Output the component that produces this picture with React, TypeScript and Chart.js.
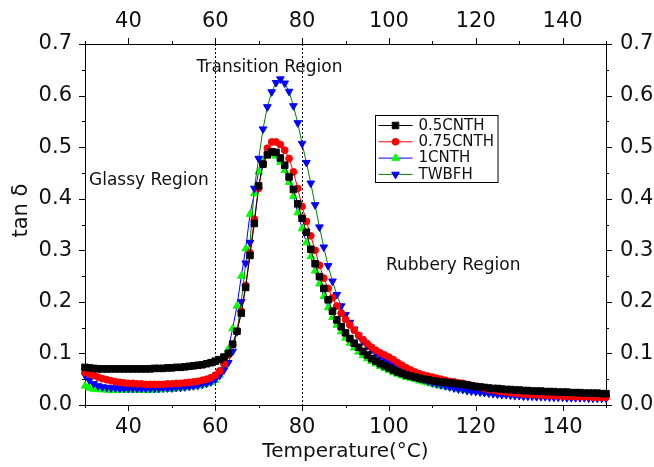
import { useEffect, useRef } from 'react';
import { Chart, registerables } from 'chart.js';

Chart.register(...registerables);

// ---------- data ----------
const temperature = [
  30, 31, 32, 33, 34, 35, 36, 37, 38, 39,
  40, 41, 42, 43, 44, 45, 46, 47, 48, 49,
  50, 51, 52, 53, 54, 55, 56, 57, 58, 59,
  60, 61, 62, 63, 64, 65, 66, 67, 68, 69,
  70, 71, 72, 73, 74, 75, 76, 77, 78, 79,
  80, 81, 82, 83, 84, 85, 86, 87, 88, 89,
  90, 91, 92, 93, 94, 95, 96, 97, 98, 99,
  100, 101, 102, 103, 104, 105, 106, 107, 108, 109,
  110, 111, 112, 113, 114, 115, 116, 117, 118, 119,
  120, 121, 122, 123, 124, 125, 126, 127, 128, 129,
  130, 131, 132, 133, 134, 135, 136, 137, 138, 139,
  140, 141, 142, 143, 144, 145, 146, 147, 148, 149,
  150,
];

const cnth05 = [
  0.073, 0.072, 0.071, 0.070, 0.070, 0.070, 0.070, 0.070, 0.070, 0.070,
  0.070, 0.070, 0.070, 0.070, 0.070, 0.070, 0.071, 0.071, 0.071, 0.072,
  0.072, 0.073, 0.073, 0.074, 0.075, 0.076, 0.077, 0.078, 0.080, 0.082,
  0.085, 0.088, 0.093, 0.100, 0.118, 0.143, 0.178, 0.228, 0.290, 0.352,
  0.425, 0.467, 0.485, 0.491, 0.490, 0.479, 0.465, 0.442, 0.418, 0.390,
  0.362, 0.335, 0.302, 0.274, 0.249, 0.226, 0.204, 0.182, 0.165, 0.152,
  0.140, 0.129, 0.120, 0.112, 0.104, 0.097, 0.090, 0.085, 0.080, 0.076,
  0.072, 0.068, 0.064, 0.061, 0.058, 0.056, 0.054, 0.052, 0.050, 0.049,
  0.047, 0.046, 0.045, 0.044, 0.043, 0.042, 0.041, 0.040, 0.039, 0.037,
  0.036, 0.035, 0.034, 0.033, 0.032, 0.032, 0.031, 0.030, 0.030, 0.029,
  0.029, 0.028, 0.028, 0.027, 0.027, 0.027, 0.026, 0.026, 0.026, 0.025,
  0.025, 0.025, 0.024, 0.024, 0.024, 0.023, 0.023, 0.023, 0.023, 0.022,
  0.022,
];

const cnth075 = [
  0.063, 0.060, 0.057, 0.054, 0.051, 0.049, 0.047, 0.045, 0.044, 0.043,
  0.042, 0.042, 0.041, 0.041, 0.040, 0.040, 0.040, 0.040, 0.040, 0.041,
  0.041, 0.042, 0.042, 0.043, 0.044, 0.045, 0.046, 0.048, 0.050, 0.053,
  0.058, 0.066, 0.080, 0.097, 0.117, 0.143, 0.182, 0.232, 0.295, 0.360,
  0.420, 0.468, 0.498, 0.510, 0.510, 0.505, 0.494, 0.478, 0.452, 0.420,
  0.385, 0.356, 0.328, 0.300, 0.271, 0.246, 0.226, 0.208, 0.192, 0.178,
  0.166, 0.155, 0.145, 0.135, 0.127, 0.119, 0.112, 0.106, 0.101, 0.097,
  0.093, 0.088, 0.082, 0.077, 0.072, 0.068, 0.064, 0.061, 0.058, 0.056,
  0.054, 0.052, 0.050, 0.048, 0.046, 0.045, 0.043, 0.042, 0.040, 0.038,
  0.036, 0.034, 0.032, 0.030, 0.029, 0.027, 0.026, 0.025, 0.024, 0.023,
  0.022, 0.021, 0.021, 0.020, 0.020, 0.019, 0.019, 0.018, 0.018, 0.018,
  0.017, 0.017, 0.017, 0.016, 0.016, 0.016, 0.016, 0.015, 0.015, 0.015,
  0.015,
];

const cnth1 = [
  0.037, 0.033, 0.031, 0.030, 0.030, 0.029, 0.029, 0.029, 0.029, 0.029,
  0.029, 0.029, 0.029, 0.029, 0.029, 0.029, 0.029, 0.030, 0.030, 0.031,
  0.031, 0.032, 0.033, 0.034, 0.035, 0.036, 0.037, 0.039, 0.041, 0.044,
  0.048, 0.058, 0.074, 0.108, 0.148, 0.192, 0.250, 0.303, 0.370, 0.410,
  0.452, 0.473, 0.484, 0.487, 0.483, 0.471, 0.455, 0.432, 0.405, 0.373,
  0.342, 0.315, 0.288, 0.260, 0.235, 0.211, 0.189, 0.170, 0.155, 0.142,
  0.130, 0.120, 0.111, 0.103, 0.096, 0.090, 0.085, 0.080, 0.075, 0.071,
  0.067, 0.063, 0.060, 0.057, 0.054, 0.052, 0.050, 0.047, 0.045, 0.043,
  0.041, 0.039, 0.037, 0.036, 0.034, 0.033, 0.031, 0.030, 0.029, 0.028,
  0.027, 0.026, 0.025, 0.024, 0.023, 0.022, 0.022, 0.021, 0.021, 0.020,
  0.020, 0.019, 0.019, 0.019, 0.018, 0.018, 0.018, 0.018, 0.017, 0.017,
  0.017, 0.017, 0.017, 0.017, 0.017, 0.017, 0.017, 0.018, 0.019, 0.020,
  0.021,
];

const twbfh = [
  0.058, 0.048, 0.041, 0.037, 0.035, 0.034, 0.033, 0.033, 0.032, 0.032,
  0.032, 0.032, 0.032, 0.032, 0.032, 0.032, 0.032, 0.032, 0.033, 0.033,
  0.033, 0.034, 0.034, 0.035, 0.036, 0.037, 0.038, 0.040, 0.042, 0.045,
  0.050, 0.057, 0.068, 0.082, 0.104, 0.142, 0.200, 0.275, 0.315, 0.420,
  0.478, 0.535, 0.578, 0.607, 0.625, 0.632, 0.624, 0.608, 0.580, 0.547,
  0.507, 0.470, 0.430, 0.388, 0.345, 0.306, 0.270, 0.240, 0.214, 0.192,
  0.175, 0.160, 0.147, 0.135, 0.124, 0.115, 0.107, 0.100, 0.094, 0.088,
  0.082, 0.077, 0.072, 0.067, 0.063, 0.059, 0.055, 0.052, 0.049, 0.046,
  0.043, 0.041, 0.039, 0.037, 0.035, 0.033, 0.031, 0.030, 0.028, 0.027,
  0.026, 0.025, 0.024, 0.023, 0.022, 0.021, 0.020, 0.020, 0.019, 0.018,
  0.018, 0.017, 0.017, 0.017, 0.016, 0.016, 0.016, 0.015, 0.015, 0.015,
  0.015, 0.014, 0.014, 0.014, 0.014, 0.014, 0.013, 0.013, 0.013, 0.013,
  0.013,
];

const seriesLabels = ['0.5CNTH', '0.75CNTH', '1CNTH', 'TWBFH'];

const xMajorTicks = [40, 60, 80, 100, 120, 140];
const xMinorTicks = [30, 50, 70, 90, 110, 130, 150];
const yMajorTicks = [0, 0.1, 0.2, 0.3, 0.4, 0.5, 0.6, 0.7];
const yMinorTicks = [0.05, 0.15, 0.25, 0.35, 0.45, 0.55, 0.65];

const regionBoundaries = [60, 80];
const regionLabels = ['Transition Region', 'Glassy Region', 'Rubbery Region'];
const regionLabelAnchors = [
  { x: 72.5, y: 0.6535, align: 'center' },
  { x: 30.92, y: 0.4344, align: 'left' },
  { x: 99.33, y: 0.2695, align: 'left' },
];

// ---------- styles ----------
const FONT = "'DejaVu Sans', 'Liberation Sans', sans-serif";
const INK = '#111111';

type Marker = { style: string; rotation: number; radius: number; fill: string; line: string };
const markers: Marker[] = [
  { style: 'rect', rotation: 0, radius: 4.6, fill: '#000000', line: '#000000' },
  { style: 'circle', rotation: 0, radius: 3.4, fill: '#ff0000', line: '#ff0000' },
  { style: 'triangle', rotation: 0, radius: 4.4, fill: '#00ff00', line: '#0000ff' },
  { style: 'triangle', rotation: 180, radius: 4.4, fill: '#0000ff', line: '#008000' },
];
const drawOrder = [0, 1, 3, 2];

function drawMarker(ctx: CanvasRenderingContext2D, m: Marker, x: number, y: number) {
  ctx.save();
  ctx.fillStyle = m.fill;
  ctx.strokeStyle = m.fill;
  ctx.lineWidth = 1;
  ctx.setLineDash([]);
  ctx.beginPath();
  const r = m.radius;
  if (m.style === 'rect') {
    const s = r * Math.SQRT1_2;
    ctx.rect(x - s, y - s, 2 * s, 2 * s);
  } else if (m.style === 'circle') {
    ctx.arc(x, y, r, 0, Math.PI * 2);
  } else {
    let a = (m.rotation * Math.PI) / 180;
    ctx.moveTo(x + Math.sin(a) * r, y - Math.cos(a) * r);
    for (let k = 0; k < 2; k++) {
      a += (2 * Math.PI) / 3;
      ctx.lineTo(x + Math.sin(a) * r, y - Math.cos(a) * r);
    }
    ctx.closePath();
  }
  ctx.fill();
  ctx.stroke();
  ctx.restore();
}

export default function App() {
  const ref = useRef<HTMLCanvasElement>(null);

  useEffect(() => {
    document.body.style.margin = '0';
    const canvas = ref.current;
    if (!canvas) return;

    const seriesValues = [cnth05, cnth075, cnth1, twbfh];

    const decor = {
      id: 'decor',
      beforeDatasetsDraw(chart: any) {
        const { ctx, chartArea: ca, scales } = chart;
        ctx.save();
        ctx.setLineDash([2, 2]);
        ctx.strokeStyle = '#000';
        ctx.lineWidth = 1;
        for (const t of regionBoundaries) {
          const px = Math.round(scales.x.getPixelForValue(t)) + 0.5;
          ctx.beginPath();
          ctx.moveTo(px, ca.top);
          ctx.lineTo(px, ca.bottom);
          ctx.stroke();
        }
        ctx.restore();
      },
      afterDraw(chart: any) {
        const { ctx, chartArea: ca, scales } = chart;
        ctx.save();
        // tick marks (outward), major 6px, minor 3px
        ctx.strokeStyle = '#000';
        ctx.lineWidth = 1;
        ctx.setLineDash([]);
        const vt = (scale: any, vals: number[], len: number, side: 'bottom' | 'top') => {
          for (const v of vals) {
            const px = Math.round(scale.getPixelForValue(v)) + 0.5;
            const y0 = side === 'bottom' ? ca.bottom : ca.top;
            const y1 = side === 'bottom' ? ca.bottom + len : ca.top - len;
            ctx.beginPath();
            ctx.moveTo(px, y0);
            ctx.lineTo(px, y1);
            ctx.stroke();
          }
        };
        const ht = (scale: any, vals: number[], len: number, side: 'left' | 'right') => {
          for (const v of vals) {
            const py = Math.round(scale.getPixelForValue(v)) + 0.5;
            const x0 = side === 'left' ? ca.left : ca.right;
            const x1 = side === 'left' ? ca.left - len : ca.right + len;
            ctx.beginPath();
            ctx.moveTo(x0, py);
            ctx.lineTo(x1, py);
            ctx.stroke();
          }
        };
        vt(scales.x, xMajorTicks, 6, 'bottom');
        vt(scales.x, xMinorTicks, 3, 'bottom');
        vt(scales.x2, xMajorTicks, 6, 'top');
        vt(scales.x2, xMinorTicks, 3, 'top');
        ht(scales.y, yMajorTicks, 6, 'left');
        ht(scales.y, yMinorTicks, 3, 'left');
        ht(scales.y2, yMajorTicks, 6, 'right');
        ht(scales.y2, yMinorTicks, 3, 'right');

        // y-axis title
        ctx.fillStyle = INK;
        ctx.font = `21px ${FONT}`;
        ctx.textAlign = 'center';
        ctx.textBaseline = 'middle';
        ctx.save();
        ctx.translate(22, scales.y.getPixelForValue(0.377));
        ctx.rotate(-Math.PI / 2);
        ctx.fillText('tan δ', 0, 0);
        ctx.restore();

        // region annotations
        ctx.font = `17px ${FONT}`;
        regionLabels.forEach((text, i) => {
          const a = regionLabelAnchors[i];
          ctx.textAlign = a.align as CanvasTextAlign;
          ctx.fillText(text, scales.x.getPixelForValue(a.x), scales.y.getPixelForValue(a.y));
        });

        // legend
        ctx.font = `15px ${FONT}`;
        const lx = Math.round(ca.left + 290) + 0.5;
        const ly = Math.round(ca.top + 71) + 0.5;
        const textW = Math.max(...seriesLabels.map((l) => ctx.measureText(l).width));
        const boxW = 43 + textW + 4;
        const boxH = 67;
        ctx.strokeStyle = '#000';
        ctx.lineWidth = 1;
        ctx.strokeRect(lx, ly, boxW, boxH);
        seriesLabels.forEach((label, i) => {
          const m = markers[i];
          const y = ly + 10 + i * 16.3;
          ctx.strokeStyle = m.line;
          ctx.lineWidth = 1;
          ctx.beginPath();
          ctx.moveTo(lx + 3, y);
          ctx.lineTo(lx + 37, y);
          ctx.stroke();
          drawMarker(ctx, m, lx + 20, y);
          ctx.fillStyle = INK;
          ctx.textAlign = 'left';
          ctx.textBaseline = 'middle';
          ctx.fillText(label, lx + 43, y + 0.5);
        });
        ctx.restore();
      },
    };

    const tickFont = { family: FONT, size: 21 };
    const common = {
      grid: { display: true, drawOnChartArea: false, drawTicks: false },
      border: { display: true, color: '#000', width: 1 },
    };
    const xTicksBuild = (s: any) => {
      s.ticks = xMajorTicks.map((v) => ({ value: v }));
    };
    const yTicksBuild = (s: any) => {
      s.ticks = yMajorTicks.map((v) => ({ value: v }));
    };

    const chart = new Chart(canvas, {
      type: 'line',
      data: {
        datasets: seriesLabels.map((label, i) => ({
          label,
          data: seriesValues[i].map((y, k) => ({ x: temperature[k], y })),
          borderColor: markers[i].line,
          borderWidth: 1,
          backgroundColor: markers[i].fill,
          pointBackgroundColor: markers[i].fill,
          pointBorderColor: markers[i].fill,
          pointBorderWidth: 1,
          pointStyle: markers[i].style,
          pointRotation: markers[i].rotation,
          pointRadius: markers[i].radius,
          pointHoverRadius: markers[i].radius,
          tension: 0,
          fill: false,
          clip: false,
          order: drawOrder.indexOf(i),
        })),
      },
      options: {
        responsive: false,
        maintainAspectRatio: false,
        animation: false,
        devicePixelRatio: 1,
        events: [],
        layout: { padding: 0 },
        plugins: { legend: { display: false }, tooltip: { enabled: false } },
        scales: {
          x: {
            type: 'linear',
            position: 'bottom',
            min: 30,
            max: 150,
            afterBuildTicks: xTicksBuild,
            ticks: { font: tickFont, color: INK, padding: 10, maxRotation: 0, autoSkip: false, callback: (v: any) => String(v) },
            title: { display: true, text: 'Temperature(°C)', font: { family: FONT, size: 20 }, color: INK, padding: { top: 0, bottom: 3 } },
            afterFit: (s: any) => { s.height = 62; },
            ...common,
          },
          x2: {
            type: 'linear',
            position: 'top',
            min: 30,
            max: 150,
            afterBuildTicks: xTicksBuild,
            ticks: { font: tickFont, color: INK, padding: 10, maxRotation: 0, autoSkip: false, callback: (v: any) => String(v) },
            afterFit: (s: any) => { s.height = 44; },
            ...common,
          },
          y: {
            type: 'linear',
            position: 'left',
            min: 0,
            max: 0.7,
            afterBuildTicks: yTicksBuild,
            ticks: { font: tickFont, color: INK, padding: 13, autoSkip: false, callback: (v: any) => Number(v).toFixed(1) },
            afterFit: (s: any) => { s.width = 85; },
            ...common,
          },
          y2: {
            type: 'linear',
            position: 'right',
            min: 0,
            max: 0.7,
            afterBuildTicks: yTicksBuild,
            ticks: { font: tickFont, color: INK, padding: 14, autoSkip: false, callback: (v: any) => Number(v).toFixed(1) },
            afterFit: (s: any) => { s.width = 48; },
            ...common,
          },
        },
      },
      plugins: [decor],
    } as any);

    return () => chart.destroy();
  }, []);

  return (
    <div style={{ position: 'absolute', left: 0, top: 0, width: 654, height: 467, background: '#fff' }}>
      <canvas ref={ref} width={654} height={467} />
    </div>
  );
}
